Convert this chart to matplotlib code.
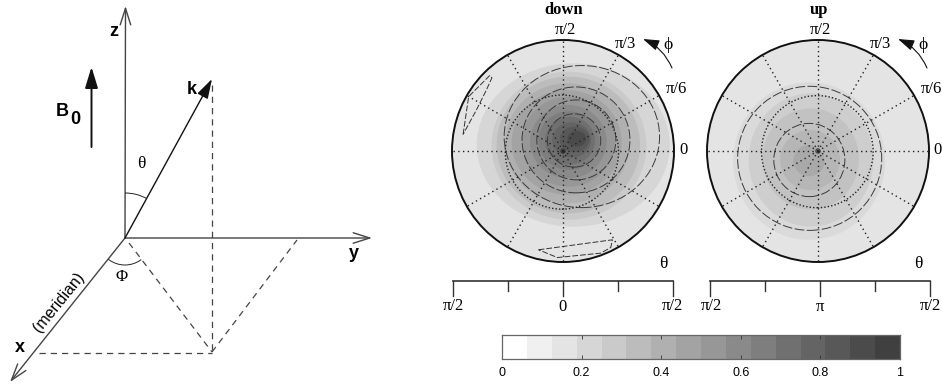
import numpy as np
import matplotlib
matplotlib.use('Agg')
from matplotlib import pyplot as plt
from matplotlib.patches import Ellipse, Circle, Arc, FancyArrowPatch

W, H = 942, 385

# colour scale
bar_levels = [0, 0.0625, 0.125, 0.1875, 0.25, 0.3125, 0.375, 0.4375, 0.5, 0.5625, 0.625, 0.6875, 0.75, 0.8125, 0.875, 0.9375, 1]
bar_greys = ['#ffffff', '#f0f0f0', '#e4e4e4', '#d6d6d6', '#cacaca', '#bcbcbc', '#b0b0b0', '#a3a3a3',
             '#979797', '#8a8a8a', '#7e7e7e', '#707070', '#646464', '#585858', '#4b4b4b', '#404040']
bar_ticks = [0, 0.2, 0.4, 0.6, 0.8, 1]
bar_tick_labels = ['0', '0.2', '0.4', '0.6', '0.8', '1']

# contour bands: grey, x centre, y centre, x size, y size (unit = disc radius)
down_bands = [
    ('#d6d6d6', 0.093, 0.054, 0.87, 0.736),
    ('#cacaca', 0.054, 0.048, 0.697, 0.667),
    ('#bcbcbc', 0.048, 0.054, 0.646, 0.616),
    ('#b0b0b0', 0.039, 0.069, 0.562, 0.541),
    ('#a3a3a3', 0.033, 0.078, 0.495, 0.471),
    ('#979797', 0.048, 0.084, 0.42, 0.405),
    ('#8a8a8a', 0.048, 0.084, 0.345, 0.33),
    ('#7e7e7e', 0.054, 0.093, 0.276, 0.264),
    ('#707070', 0.063, 0.093, 0.225, 0.215),
    ('#646464', 0.078, 0.099, 0.175, 0.16),
    ('#585858', 0.105, 0.105, 0.135, 0.115),
    ('#4b4b4b', 0.125, 0.11, 0.085, 0.07),
]
up_bands = [
    ('#dadada', -0.08, -0.09, 0.685, 0.71),
    ('#cecece', -0.063, -0.081, 0.562, 0.60),
    ('#c2c2c2', -0.066, -0.072, 0.435, 0.456),
    ('#b6b6b6', -0.072, -0.081, 0.27, 0.27),
    ('#a9a9a9', -0.081, -0.087, 0.141, 0.141),
]

# dashed / dotted contour lines: x centre, y centre, x size, y size
down_dashed = [(0.17, 0.13, 0.70, 0.64), (0.117, 0.10, 0.486, 0.477), (0.12, 0.10, 0.356, 0.36), (0.10, 0.095, 0.24, 0.24)]
down_dotted = [(-0.01, -0.01, 0.51, 0.514)]
up_dashed = [(-0.075, -0.066, 0.649, 0.649), (-0.078, -0.081, 0.32, 0.33)]
up_dotted = [(-0.006, -0.006, 0.503, 0.505)]

# small dashed islands of the down panel, as disc coordinates
island_left_x = [-0.90, -0.85, -0.66, -0.64, -0.69, -0.78, -0.90]
island_left_y = [0.15, 0.49, 0.68, 0.66, 0.55, 0.37, 0.15]
island_low_x = [-0.22, 0.445, 0.43, 0.34, -0.05, -0.22]
island_low_y = [-0.89, -0.80, -0.87, -0.92, -0.96, -0.89]

phi_ticks = [30, 60, 90, 120, 150, 180, 210, 240, 270, 300, 330, 360]


def draw_panel(fig, x0, bands, dashed, dotted):
    # one disc, 111 px radius, centre at x0 and y=151 px
    ax = fig.add_axes([(x0 - 111) / W, 1 - (151 + 111) / H, 222 / W, 222 / H])
    ax.set_xlim(-1, 1)
    ax.set_ylim(-1, 1)
    ax.axis('off')
    disc = Circle((0, 0), 1, fc='#e4e4e4', ec='none')
    ax.add_patch(disc)
    for grey, cx, cy, sx, sy in bands:
        e = Ellipse((cx, cy), 2 * sx, 2 * sy, fc=grey, ec='none')
        ax.add_patch(e)
        e.set_clip_path(disc)
    for phi in phi_ticks:
        a = np.radians(phi)
        ax.plot([0, np.cos(a)], [0, np.sin(a)], color='#222222', lw=1.0, ls=(0, (1, 2.4)))
    for cx, cy, sx, sy in dashed:
        ax.add_patch(Ellipse((cx, cy), 2 * sx, 2 * sy, fc='none', ec='#3a3a3a', lw=0.7, ls=(0, (10, 2.5))))
    for cx, cy, sx, sy in dotted:
        ax.add_patch(Ellipse((cx, cy), 2 * sx, 2 * sy, fc='none', ec='#222222', lw=1.0, ls=(0, (1, 1.5))))
    ax.add_patch(Circle((0, 0), 0.02, fc='none', ec='#333333', lw=0.6))
    ax.add_patch(Circle((0, 0), 1, fc='none', ec='#111111', lw=1.4, clip_on=False))
    return ax


def main():
    plt.rcParams['font.family'] = ['Liberation Serif', 'DejaVu Serif']
    fig = plt.figure(figsize=(W / 100, H / 100), dpi=100)

    # page layer in pixel units, for the sketch and the labels
    page = fig.add_axes([0, 0, 1, 1], zorder=5)
    page.set_xlim(0, W)
    page.set_ylim(H, 0)
    page.axis('off')

    sans = 'Liberation Sans'
    thin = dict(arrowstyle='->,head_length=0.85,head_width=0.27', color='#444444', lw=1.0, shrinkA=0, shrinkB=0)
    for end in [(125.5, 6), (372, 238), (10, 382)]:
        page.add_patch(FancyArrowPatch((125, 238), end, mutation_scale=14, **thin))
    page.add_patch(FancyArrowPatch((125, 238), (212, 79), mutation_scale=15, color='#111111', lw=1.0,
                                   arrowstyle='-|>,head_length=0.8,head_width=0.24', shrinkA=0, shrinkB=0))
    page.add_patch(FancyArrowPatch((91.5, 147), (91.5, 67), mutation_scale=15, color='#111111', lw=1.4,
                                   arrowstyle='-|>,head_length=0.85,head_width=0.26', shrinkA=0, shrinkB=0))
    dash = dict(color='#444444', lw=0.9, ls=(0, (5, 4)))
    page.plot([212, 212], [85, 352], **dash)
    page.plot([39, 212], [352.5, 352.5], **dash)
    page.plot([129, 212], [243, 352], **dash)
    page.plot([212, 297], [352, 240], **dash)
    page.add_patch(Arc((125, 238), 90, 90, theta1=-90, theta2=-61, color='#222222', lw=0.7))
    page.add_patch(Arc((125, 238), 54, 54, theta1=53, theta2=128, color='#222222', lw=0.7))
    page.text(114, 31, 'z', family=sans, weight='bold', fontsize=13, ha='center', va='center')
    page.text(192, 90, 'k', family=sans, weight='bold', fontsize=13, ha='center', va='center')
    page.text(62, 111, 'B', family=sans, weight='bold', fontsize=13, ha='center', va='center')
    page.text(75, 120, '0', family=sans, weight='bold', fontsize=13, ha='center', va='center')
    page.text(354, 254, 'y', family=sans, weight='bold', fontsize=13, ha='center', va='center')
    page.text(20, 348, 'x', family=sans, weight='bold', fontsize=13, ha='center', va='center')
    page.text(59, 302, '(meridian)', family=sans, fontsize=11.5, rotation=51, ha='center', va='center',
              rotation_mode='anchor')
    page.text(141, 164, '\u03b8', fontsize=12.5, ha='center', va='center')
    page.text(122, 277, '\u03a6', fontsize=12, ha='center', va='center')

    # the two discs
    ax_down = draw_panel(fig, 563, down_bands, down_dashed, down_dotted)
    ax_down.plot(island_left_x, island_left_y, color='#333333', lw=0.7, ls=(0, (6, 2)))
    ax_down.plot(island_low_x, island_low_y, color='#333333', lw=0.7, ls=(0, (6, 2)))
    draw_panel(fig, 818, up_bands, up_dashed, up_dotted)

    # labels around the discs
    for x0, title, zero_dx in [(563, 'down', 121), (818, 'up', 119)]:
        page.text(x0 + 1, 10, title, weight='bold', fontsize=12, ha='center', va='center')
        page.text(x0 + 2, 30, '\u03c0/2', fontsize=12, ha='center', va='center')
        page.text(x0 + 62, 44, '\u03c0/3', fontsize=12, ha='center', va='center')
        page.text(x0 + 113, 89, '\u03c0/6', fontsize=12, ha='center', va='center')
        page.text(x0 + zero_dx, 150, '0', fontsize=12, ha='center', va='center')
        page.text(x0 + 100, 264, '\u03b8', fontsize=12.5, ha='center', va='center')
        page.text(x0 + 105, 45, '\u03d5', fontsize=12.5, ha='center', va='center')
        page.add_patch(FancyArrowPatch((x0 + 109, 68), (x0 + 80, 39), connectionstyle='arc3,rad=0.2', mutation_scale=11,
                                       arrowstyle='-|>,head_length=0.9,head_width=0.3', color='#111111', lw=0.8,
                                       shrinkA=0, shrinkB=0))

    # theta scales under the discs
    scales = [(452.5, 672.5, ['\u03c0/2', '0', '\u03c0/2']), (710, 930, ['\u03c0/2', '\u03c0', '\u03c0/2'])]
    for x1, x2, labs in scales:
        xm = (x1 + x2) / 2
        page.plot([x1, x2], [280.5, 280.5], color='#333333', lw=1.2)
        for xt, ln in [(x1, 15), ((x1 + xm) / 2, 10), (xm, 15), ((xm + x2) / 2, 10), (x2, 15)]:
            page.plot([xt, xt], [280.5, 280.5 + ln], color='#333333', lw=1.0)
        page.text(x1 + 1, 306, labs[0], fontsize=12, ha='center', va='center')
        page.text(xm, 307, labs[1], fontsize=12, ha='center', va='center')
        page.text(x2, 306, labs[2], fontsize=12, ha='center', va='center')

    # colour bar
    cax = fig.add_axes([502 / W, 1 - 359 / H, 398 / W, 24 / H])
    for i, grey in enumerate(bar_greys):
        cax.axvspan(bar_levels[i], bar_levels[i + 1], color=grey, lw=0)
    cax.set_xlim(0, 1)
    cax.set_yticks([])
    cax.set_xticks(bar_ticks)
    cax.set_xticklabels(bar_tick_labels, family=sans, fontsize=9)
    cax.tick_params(axis='x', direction='in', length=3, width=0.6, color='#333333', pad=5.5, top=True)
    for s in cax.spines.values():
        s.set_linewidth(0.9)
        s.set_color('#666666')

    fig.savefig('out.png', dpi=100)


if __name__ == '__main__':
    main()
